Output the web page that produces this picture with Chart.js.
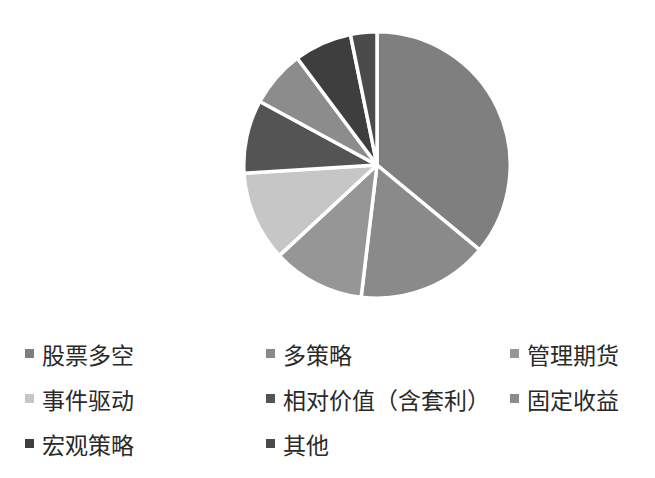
<!DOCTYPE html>
<html>
<head>
<meta charset="utf-8">
<script src="https://cdn.jsdelivr.net/npm/chart.js@4/dist/chart.umd.min.js"></script>
<style>
  html, body { margin: 0; padding: 0; background: #fff; }
  body { width: 655px; height: 478px; position: relative; overflow: hidden; }
  #pieBox { position: absolute; left: 242px; top: 30px; width: 270px; height: 270px; }
  #legend { position: absolute; left: 25px; top: 331px; display: grid;
    grid-template-columns: 241px 244px auto; grid-auto-rows: 45px;
    font-family: "Noto Sans CJK SC", sans-serif; font-size: 23px; color: #2a2a2a; }
  .item { display: flex; align-items: center; white-space: nowrap; }
  .box { width: 9px; height: 9px; margin-right: 8px; flex: none; }
</style>
</head>
<body>
<div id="pieBox"><canvas id="c"></canvas></div>
<div id="legend"></div>
<script>
const categories = ["股票多空", "多策略", "管理期货", "事件驱动", "相对价值（含套利）", "固定收益", "宏观策略", "其他"];
const shares = [36.0, 15.9, 11.2, 10.9, 8.9, 6.9, 7.0, 3.2];
const colors = ["#7f7f7f", "#8a8a8a", "#969696", "#c6c6c6", "#545454", "#8c8c8c", "#3e3e3e", "#4b4b4b"];

const chart = new Chart(document.getElementById('c'), {
  type: 'pie',
  data: {
    labels: categories,
    datasets: [{ data: shares, backgroundColor: colors, borderColor: '#ffffff', borderWidth: 3.5 }]
  },
  options: {
    responsive: true,
    maintainAspectRatio: false,
    animation: false,
    layout: { padding: 0 },
    plugins: { legend: { display: false }, tooltip: { enabled: false } }
  }
});

const legendEl = document.getElementById('legend');
chart.data.labels.forEach((lab, i) => {
  const it = document.createElement('div');
  it.className = 'item';
  const b = document.createElement('span');
  b.className = 'box';
  b.style.background = chart.data.datasets[0].backgroundColor[i];
  const t = document.createElement('span');
  t.textContent = lab;
  it.appendChild(b); it.appendChild(t);
  legendEl.appendChild(it);
});
</script>
</body>
</html>
